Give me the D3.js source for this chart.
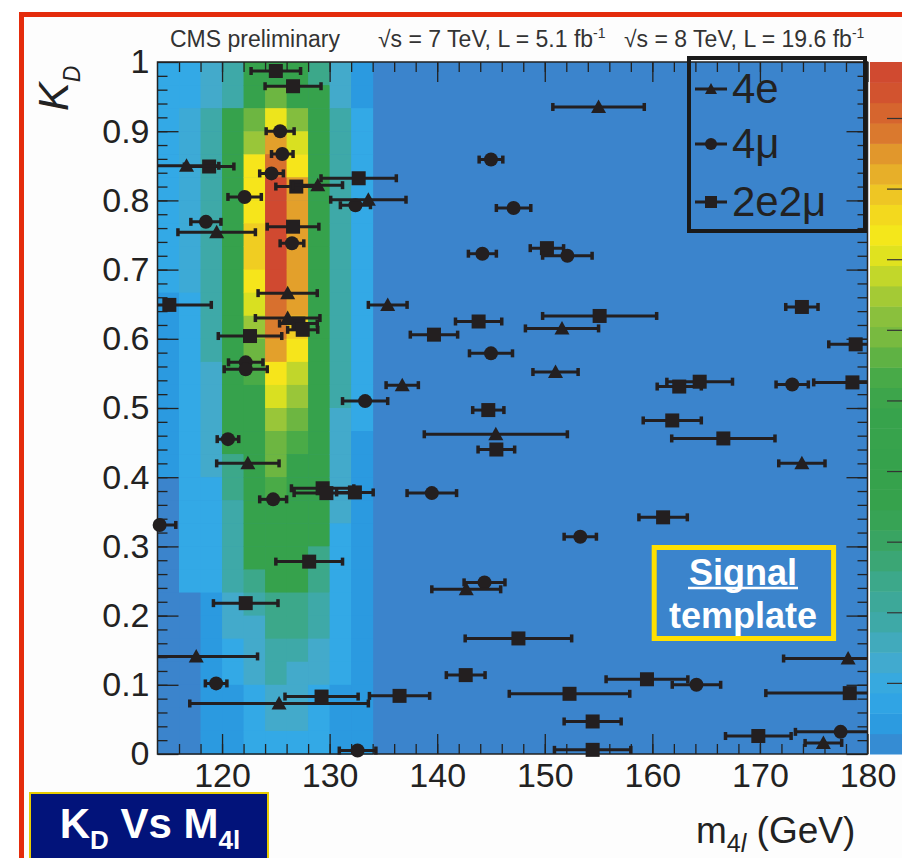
<!DOCTYPE html>
<html>
<head>
<meta charset="utf-8">
<script src="https://cdn.jsdelivr.net/npm/d3@7"></script>
<style>
  body { margin: 0; background: #fff; }
  svg { display: block; font-family: "Liberation Sans", Arial, Helvetica, sans-serif; }
</style>
</head>
<body>
<svg width="902" height="858"></svg>
<script>
// ---- data ----
var massTicks = [120, 130, 140, 150, 160, 170, 180];
var kdTicks = [0, 0.1, 0.2, 0.3, 0.4, 0.5, 0.6, 0.7, 0.8, 0.9, 1];
var zTicks = [0.01, 0.02, 0.03, 0.04, 0.05, 0.06, 0.07, 0.08, 0.09];
var zMax = 0.098;

// signal template: 2 GeV mass bins, 30 KD rows each, listed from KD=1 down to KD=0
// (values are fractions of the colour range; bins above 134 GeV are empty)
var massEdges = [114, 116, 118, 120, 122, 124, 126, 128, 130, 132, 134];
var heat = [
  [.09,.09,.09,.09,.09,.09,.09,.09,.09,.09,.04,.04,.04,.04,.04,.04,.04,.04,0,0,0,0,0,0,0,0,0,0,0,0],
  [.09,.09,.12,.12,.12,.12,.12,.12,.12,.12,.09,.09,.09,.09,.09,.09,.09,.09,.09,.09,.09,.09,.09,0,0,0,0,0,0,0],
  [.14,.14,.19,.19,.19,.19,.19,.19,.19,.19,.19,.19,.19,.14,.14,.14,.14,.14,.09,.09,.09,.09,.09,.04,.04,.04,.04,.04,.04,.04],
  [.19,.19,.42,.42,.42,.42,.42,.42,.42,.42,.42,.42,.42,.42,.42,.42,.42,.25,.25,.19,.19,.19,.19,.14,.14,.09,.09,.04,.04,.04],
  [.42,.42,.59,.65,.76,.76,.76,.80,.80,.76,.71,.65,.59,.55,.42,.42,.42,.42,.42,.42,.42,.42,.25,.19,.14,.14,.14,.09,.09,.09],
  [.42,.59,.74,.86,.91,.99,.99,.99,.99,.99,.91,.89,.86,.76,.71,.65,.59,.59,.55,.42,.42,.42,.42,.25,.25,.19,.19,.14,.14,.09],
  [.42,.42,.62,.71,.76,.86,.86,.86,.86,.86,.86,.80,.76,.69,.65,.59,.55,.42,.42,.42,.42,.42,.42,.25,.25,.19,.14,.14,.14,.09],
  [.25,.42,.42,.42,.42,.42,.42,.42,.42,.42,.42,.42,.42,.42,.42,.42,.42,.42,.42,.42,.42,.25,.25,.19,.19,.14,.14,.09,.09,.09],
  [.14,.14,.19,.19,.19,.19,.19,.19,.19,.19,.19,.19,.19,.19,.19,.14,.14,.14,.14,.14,.09,.09,.09,.09,.09,.09,.09,.04,.04,.04],
  [.04,.04,.09,.09,.09,.09,.09,.09,.09,.09,.09,.09,.09,.09,.09,.09,.04,.04,.04,.04,.04,.04,.04,.04,.04,.04,.04,.04,.04,.04]
];

// events: [m4l (GeV), m4l error (GeV), KD]
var fourE = [
  [116.7, 3.0, 0.850], [128.9, 2.3, 0.822], [133.6, 3.5, 0.801], [119.5, 3.6, 0.754],
  [126.1, 2.75, 0.666], [135.4, 1.8, 0.649], [126.1, 3.0, 0.630], [122.4, 2.9, 0.420],
  [117.6, 5.7, 0.141], [125.3, 8.3, 0.073], [155.0, 4.25, 0.935], [151.6, 3.4, 0.615],
  [151.0, 2.1, 0.552], [136.75, 1.5, 0.533], [145.45, 6.65, 0.462], [142.7, 3.2, 0.238],
  [173.9, 2.15, 0.420], [178.2, 6.0, 0.138], [175.9, 1.7, 0.016]
];
var fourMu = [
  [125.4, 1.3, 0.900], [125.6, 1.0, 0.867], [124.6, 1.1, 0.839], [122.1, 1.55, 0.805],
  [132.4, 1.4, 0.793], [118.5, 1.4, 0.769], [126.5, 1.1, 0.738], [122.2, 1.6, 0.566],
  [122.2, 2.0, 0.556], [133.3, 2.1, 0.510], [120.55, 1.0, 0.455], [124.75, 1.25, 0.368],
  [114.2, 1.5, 0.331], [119.45, 1.0, 0.102], [132.6, 1.7, 0.005], [145.0, 1.1, 0.859],
  [147.1, 1.6, 0.789], [144.2, 1.3, 0.723], [152.1, 2.3, 0.720], [145.0, 2.0, 0.579],
  [139.5, 2.3, 0.377], [153.3, 1.5, 0.314], [144.4, 1.9, 0.248], [173.0, 1.5, 0.534],
  [164.1, 2.25, 0.100], [177.5, 4.2, 0.032]
];
var twoE2Mu = [
  [125.0, 2.3, 0.987], [126.6, 2.6, 0.965], [118.8, 2.3, 0.849], [132.7, 3.5, 0.832],
  [126.9, 1.9, 0.820], [126.6, 2.4, 0.762], [115.1, 3.9, 0.649], [127.1, 1.75, 0.622],
  [127.5, 1.4, 0.613], [122.6, 2.95, 0.604], [129.35, 2.9, 0.384], [129.7, 3.0, 0.377],
  [132.35, 1.7, 0.378], [128.1, 3.1, 0.278], [122.2, 3.0, 0.218], [129.25, 3.4, 0.083],
  [136.5, 2.8, 0.084], [150.2, 1.55, 0.731], [155.1, 5.3, 0.633], [143.85, 2.15, 0.625],
  [139.7, 2.2, 0.606], [144.75, 1.45, 0.497], [145.5, 1.7, 0.440], [147.55, 4.95, 0.167],
  [142.65, 1.8, 0.114], [152.3, 5.6, 0.087], [154.45, 2.65, 0.047], [154.45, 3.55, 0.006],
  [159.5, 3.8, 0.108], [173.9, 1.5, 0.646], [178.9, 2.5, 0.592], [164.4, 3.05, 0.538],
  [162.5, 2.05, 0.531], [178.6, 3.6, 0.537], [161.85, 2.7, 0.482], [166.6, 4.8, 0.456],
  [161.0, 2.25, 0.342], [178.35, 7.8, 0.088], [169.85, 3.05, 0.026]
];

// ---- layout / style ----
var plotL = 157.5, plotR = 867.5, plotT = 62, plotB = 754;
var ink = '#231f20';
var font = '"Liberation Sans", Arial, Helvetica, sans-serif';

var paletteStops = [0, .04, .09, .14, .19, .25, .30, .36, .50, .55, .60, .64, .68, .71, .755, .80, .83, .86, .89, .92, .95, 1];
var paletteColors = ['#3b84cc', '#2b9ae0', '#33a9e6', '#43aacb', '#3ea9a8', '#3ca88a', '#3aa466', '#36a24c',
  '#37a34c', '#4aab47', '#76b940', '#8fc23c', '#b5d130', '#d9e021', '#f7e81a', '#f0cd22', '#e9b428',
  '#e3a02b', '#db7d2e', '#d76a2e', '#d2552f', '#cf4630'];
var color = d3.scaleLinear().domain(paletteStops).range(paletteColors).clamp(true);

var x = d3.scaleLinear().domain([114, 180]).range([plotL, plotR]);
var y = d3.scaleLinear().domain([0, 1]).range([plotB, plotT]);
var z = d3.scaleLinear().domain([0, zMax]).range([plotB, plotT]);

var svg = d3.select('svg');

// slide background and red frame
svg.append('rect').attr('width', 902).attr('height', 858).attr('fill', '#fff');
svg.append('rect').attr('x', 24).attr('y', 17).attr('width', 878).attr('height', 841).attr('fill', '#fdfdfd');
svg.append('path').attr('d', 'M21.5,858V14.5H902')
  .attr('fill', 'none').attr('stroke', '#e42c0c').attr('stroke-width', 5);

// header
svg.append('text').attr('x', 170).attr('y', 47).attr('font-size', 23).attr('fill', '#333')
  .text('CMS preliminary');
function lumiText(xPos, main) {
  var t = svg.append('text').attr('x', xPos).attr('y', 47).attr('font-size', 23).attr('fill', '#333');
  t.append('tspan').text(main);
  t.append('tspan').attr('font-size', 14).attr('dy', -9).text('-1');
}
lumiText(378, '\u221As = 7 TeV, L = 5.1 fb');
lumiText(624, '\u221As = 8 TeV, L = 19.6 fb');

// plot background = empty bins
svg.append('rect').attr('x', plotL).attr('y', plotT).attr('width', plotR - plotL).attr('height', plotB - plotT)
  .attr('fill', color(0));

// template cells
var cells = [];
heat.forEach(function (col, i) {
  col.forEach(function (v, r) {
    cells.push({ m0: massEdges[i], m1: massEdges[i + 1], k1: 1 - r / col.length, k0: 1 - (r + 1) / col.length, v: v });
  });
});
svg.append('g').selectAll('rect').data(cells).join('rect')
  .attr('x', function (d) { return x(d.m0); })
  .attr('y', function (d) { return y(d.k1); })
  .attr('width', function (d) { return x(d.m1) - x(d.m0) + 0.5; })
  .attr('height', function (d) { return y(d.k0) - y(d.k1) + 0.5; })
  .attr('fill', function (d) { return color(d.v); });

// colour bar
var nLevels = 34;
var levels = d3.range(nLevels).map(function (i) { return { z0: zMax * i / nLevels, z1: zMax * (i + 1) / nLevels, f: (i + 0.5) / nLevels }; });
svg.append('g').selectAll('rect').data(levels).join('rect')
  .attr('x', 870).attr('width', 40)
  .attr('y', function (d) { return z(d.z1); })
  .attr('height', function (d) { return z(d.z0) - z(d.z1) + 0.5; })
  .attr('fill', function (d) { return color(d.f); });
svg.append('g').selectAll('line').data(zTicks).join('line')
  .attr('x1', 887).attr('x2', 905)
  .attr('y1', function (d) { return z(d); }).attr('y2', function (d) { return z(d); })
  .attr('stroke', '#333').attr('stroke-width', 1.2);

// axes (ROOT style: ticks on all four sides, pointing inward)
function styleAxis(g) {
  g.select('.domain').remove();
  g.selectAll('line').attr('stroke', '#222').attr('stroke-width', 1.3);
  g.selectAll('text').attr('font-family', font).attr('font-size', 34).attr('fill', '#222');
}
var massMinor = d3.range(116, 180, 2);
var kdMinor = d3.range(0.02, 1, 0.02);
svg.append('g').attr('transform', 'translate(0,' + plotB + ')')
  .call(d3.axisBottom(x).tickValues(massMinor).tickSize(-10).tickFormat('')).call(styleAxis);
svg.append('g').attr('transform', 'translate(0,' + plotB + ')')
  .call(d3.axisBottom(x).tickValues(massTicks).tickSize(-20).tickPadding(9).tickFormat(d3.format('d'))).call(styleAxis);
svg.append('g').attr('transform', 'translate(0,' + plotT + ')')
  .call(d3.axisTop(x).tickValues(massMinor).tickSize(-10).tickFormat('')).call(styleAxis);
svg.append('g').attr('transform', 'translate(0,' + plotT + ')')
  .call(d3.axisTop(x).tickValues(massTicks).tickSize(-20).tickFormat('')).call(styleAxis);
svg.append('g').attr('transform', 'translate(' + plotL + ',0)')
  .call(d3.axisLeft(y).tickValues(kdMinor).tickSize(-10).tickFormat('')).call(styleAxis);
svg.append('g').attr('transform', 'translate(' + plotL + ',0)')
  .call(d3.axisLeft(y).tickValues(kdTicks).tickSize(-21).tickPadding(8).tickFormat(d3.format('~g'))).call(styleAxis);
svg.append('g').attr('transform', 'translate(' + plotR + ',0)')
  .call(d3.axisRight(y).tickValues(kdMinor).tickSize(-10).tickFormat('')).call(styleAxis);
svg.append('g').attr('transform', 'translate(' + plotR + ',0)')
  .call(d3.axisRight(y).tickValues(kdTicks).tickSize(-21).tickFormat('')).call(styleAxis);
svg.append('rect').attr('x', plotL).attr('y', plotT).attr('width', plotR - plotL).attr('height', plotB - plotT)
  .attr('fill', 'none').attr('stroke', '#222').attr('stroke-width', 1.5);

// axis titles
var yt = svg.append('text').attr('transform', 'translate(68,111) rotate(-90)')
  .attr('font-size', 43).attr('font-style', 'italic').attr('fill', '#222');
yt.append('tspan').text('K');
yt.append('tspan').attr('font-size', 23).attr('dy', 12).text('D');

var xt = svg.append('text').attr('x', 696).attr('y', 843).attr('font-size', 37).attr('fill', '#222');
xt.append('tspan').text('m');
xt.append('tspan').attr('font-size', 25).attr('dy', 9).text('4');
xt.append('tspan').attr('font-size', 25).attr('font-style', 'italic').text('l');
xt.append('tspan').attr('dy', -9).text(' (GeV)');

// data points with horizontal error bars
svg.append('clipPath').attr('id', 'plotClip').append('rect')
  .attr('x', plotL).attr('y', plotT - 10).attr('width', plotR - plotL).attr('height', plotB - plotT + 20);

var triPath = 'M0,-7.5L7.5,6L-7.5,6Z';
function drawSeries(data, shape) {
  var g = svg.append('g');
  var bars = g.append('g').attr('clip-path', 'url(#plotClip)');
  bars.selectAll('line').data(data).join('line')
    .attr('x1', function (d) { return x(d[0] - d[1]); })
    .attr('x2', function (d) { return x(d[0] + d[1]); })
    .attr('y1', function (d) { return y(d[2]); })
    .attr('y2', function (d) { return y(d[2]); })
    .attr('stroke', ink).attr('stroke-width', 3);
  [-1, 1].forEach(function (s) {
    bars.append('g').selectAll('rect').data(data).join('rect')
      .attr('x', function (d) { return x(d[0] + s * d[1]) - 1.75; })
      .attr('y', function (d) { return y(d[2]) - 4; })
      .attr('width', 3.5).attr('height', 8).attr('fill', ink);
  });
  var marks = g.append('g').selectAll('g').data(data).join('g')
    .attr('transform', function (d) { return 'translate(' + x(d[0]) + ',' + y(d[2]) + ')'; });
  if (shape === 'square') marks.append('rect').attr('x', -7).attr('y', -7).attr('width', 14).attr('height', 14).attr('fill', ink);
  if (shape === 'circle') marks.append('circle').attr('r', 7).attr('fill', ink);
  if (shape === 'triangle') marks.append('path').attr('d', triPath).attr('fill', ink);
}
drawSeries(twoE2Mu, 'square');
drawSeries(fourMu, 'circle');
drawSeries(fourE, 'triangle');

// legend
var legendItems = [
  { label: '4e', shape: 'triangle', y: 89 },
  { label: '4\u03bc', shape: 'circle', y: 144 },
  { label: '2e2\u03bc', shape: 'square', y: 202 }
];
svg.append('rect').attr('x', 689).attr('y', 58).attr('width', 176).attr('height', 173)
  .attr('fill', 'none').attr('stroke', '#1a1a1a').attr('stroke-width', 4);
var li = svg.append('g').selectAll('g').data(legendItems).join('g')
  .attr('transform', function (d) { return 'translate(0,' + d.y + ')'; });
li.append('line').attr('x1', 695).attr('x2', 727).attr('stroke', ink).attr('stroke-width', 3);
li.each(function (d) {
  var g = d3.select(this).append('g').attr('transform', 'translate(711,0)');
  if (d.shape === 'triangle') g.append('path').attr('d', 'M0,-6L6,5L-6,5Z').attr('fill', ink);
  if (d.shape === 'circle') g.append('circle').attr('r', 6).attr('fill', ink);
  if (d.shape === 'square') g.append('rect').attr('x', -6).attr('y', -6).attr('width', 12).attr('height', 12).attr('fill', ink);
});
li.append('text').attr('x', 732).attr('y', 14).attr('font-size', 42).attr('fill', '#222')
  .text(function (d) { return d.label; });

// "Signal template" annotation
svg.append('rect').attr('x', 654.2).attr('y', 547.5).attr('width', 179.4).attr('height', 91)
  .attr('fill', 'none').attr('stroke', '#ffe000').attr('stroke-width', 5);
svg.append('text').attr('x', 743).attr('y', 585).attr('text-anchor', 'middle')
  .attr('font-size', 36).attr('font-weight', 'bold').attr('fill', '#fff').text('Signal');
svg.append('line').attr('x1', 688).attr('x2', 798).attr('y1', 588).attr('y2', 588)
  .attr('stroke', '#fff').attr('stroke-width', 2.6);
svg.append('text').attr('x', 743).attr('y', 628).attr('text-anchor', 'middle')
  .attr('font-size', 36).attr('font-weight', 'bold').attr('fill', '#fff').text('template');

// "KD Vs M4l" tag
svg.append('rect').attr('x', 30).attr('y', 793).attr('width', 238).attr('height', 75)
  .attr('fill', '#02137a').attr('stroke', '#e8cc00').attr('stroke-width', 2);
var tag = svg.append('text').attr('x', 150).attr('y', 838).attr('text-anchor', 'middle')
  .attr('font-size', 42).attr('font-weight', 'bold').attr('fill', '#fff');
tag.append('tspan').text('K');
tag.append('tspan').attr('font-size', 26).attr('dy', 11).text('D');
tag.append('tspan').attr('dy', -11).text(' Vs M');
tag.append('tspan').attr('font-size', 26).attr('dy', 11).text('4l');
</script>
</body>
</html>
